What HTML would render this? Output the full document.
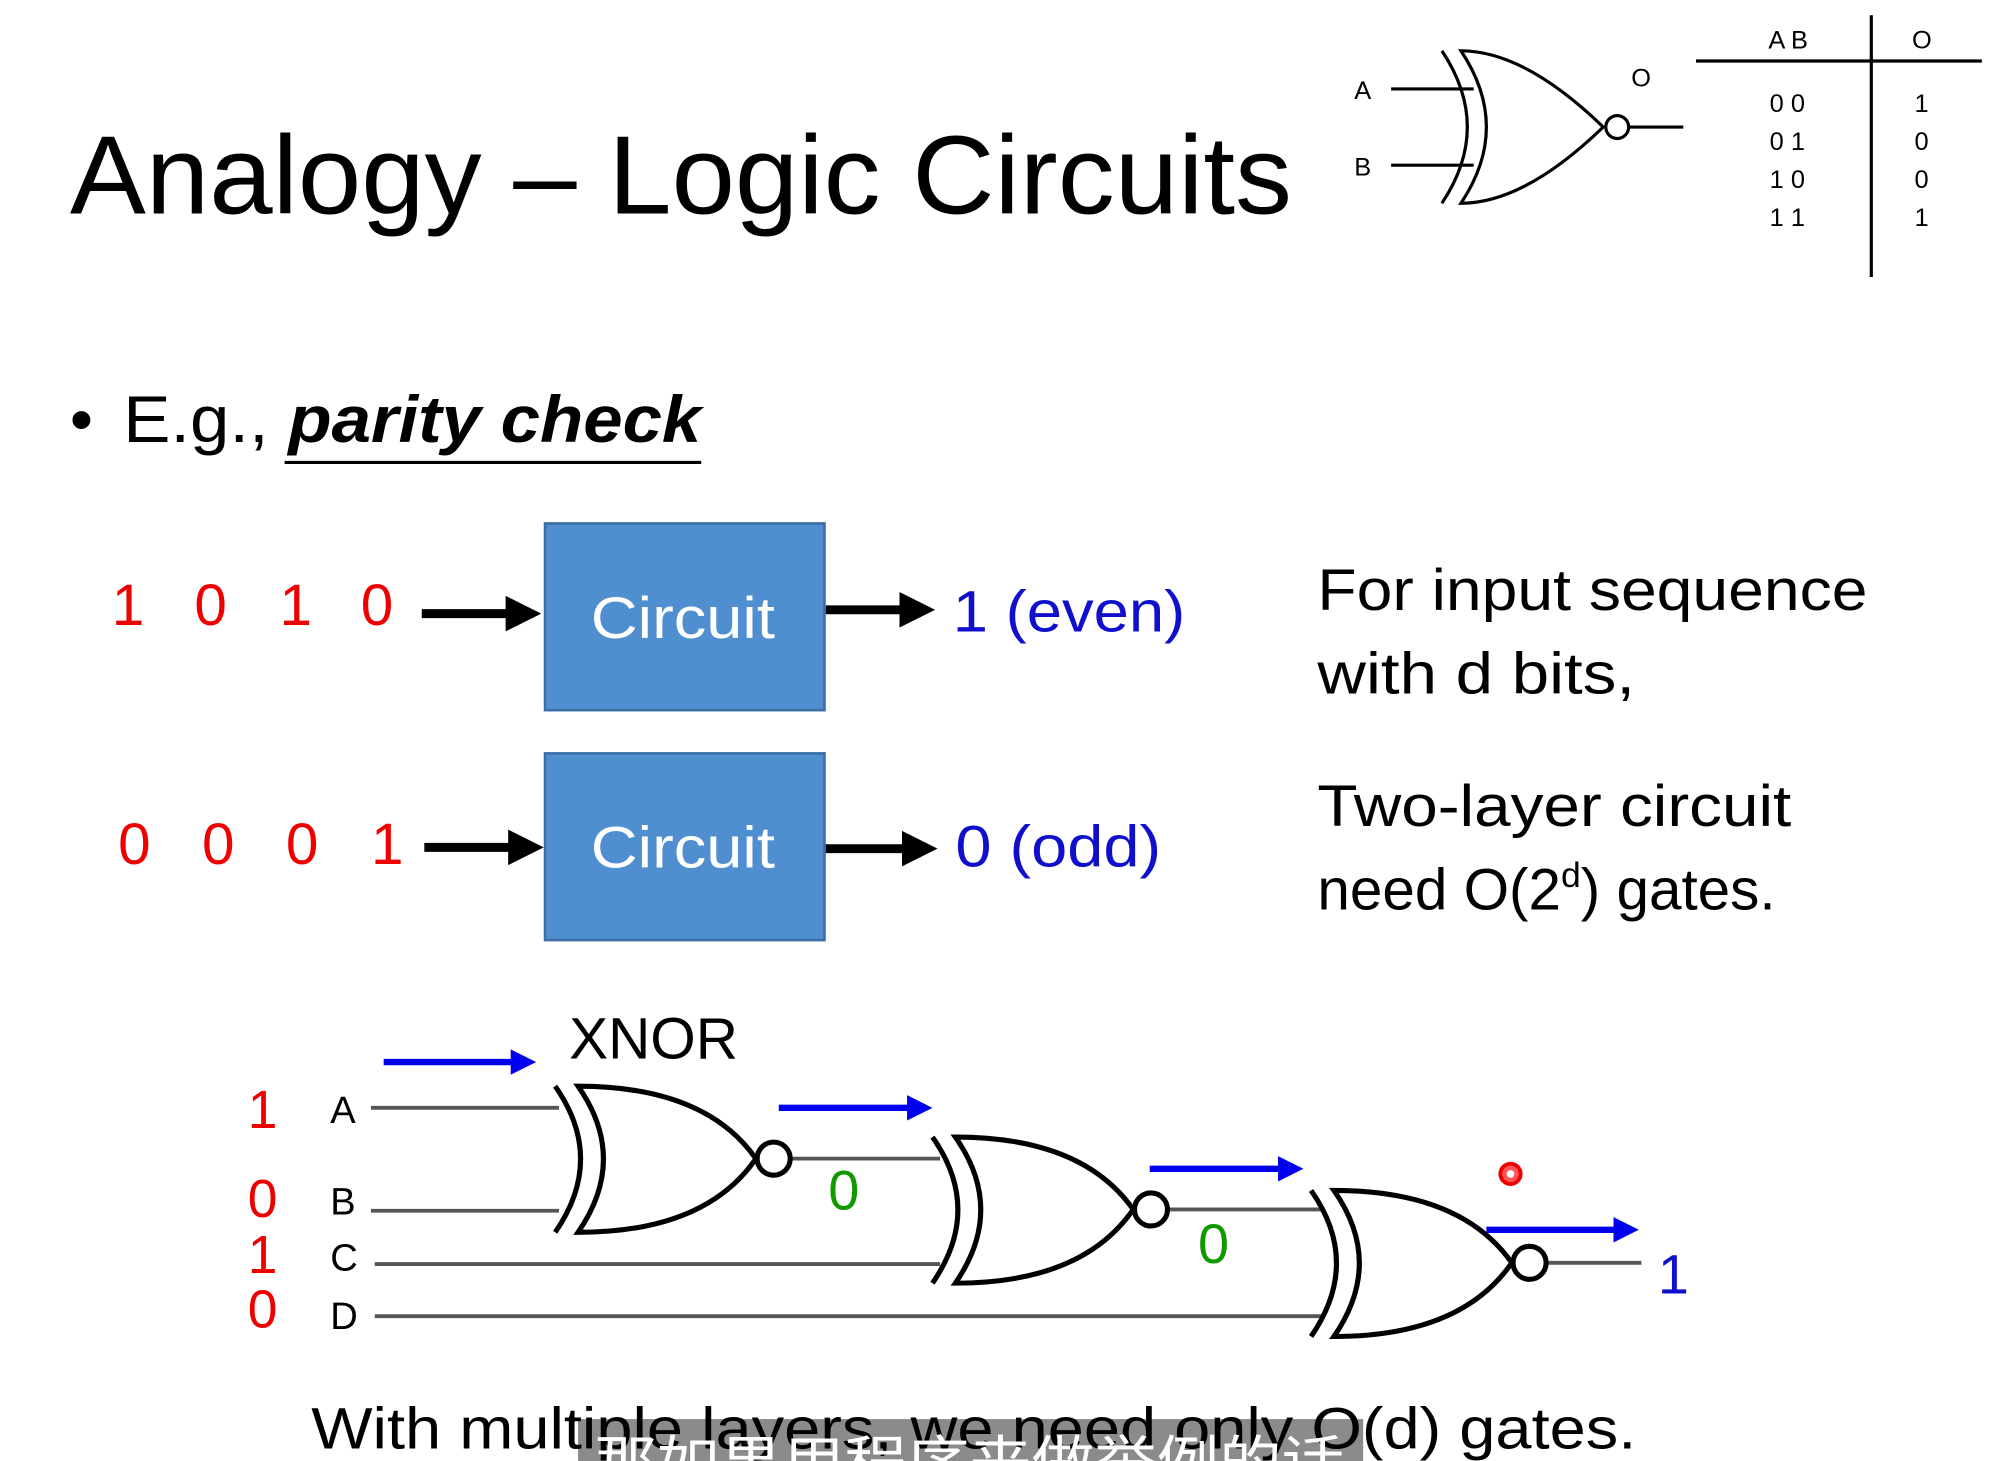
<!DOCTYPE html>
<html><head><meta charset="utf-8"><style>
html,body{margin:0;padding:0;background:#fff}
svg{display:block}
text{font-family:"Liberation Sans","DejaVu Sans",sans-serif}
</style></head><body>
<svg width="1992" height="1461" viewBox="0 0 1568 1150" preserveAspectRatio="none" xmlns="http://www.w3.org/2000/svg">
<defs>
<marker id="ab" markerWidth="4" markerHeight="4" refX="2" refY="2" orient="auto"><path d="M0,0 L4,2 L0,4 z" fill="#000"/></marker>
<marker id="au" markerWidth="4" markerHeight="4" refX="2" refY="2" orient="auto"><path d="M0,0 L4,2 L0,4 z" fill="#0000ee"/></marker>
<g id="gate" fill="none" stroke="#000" stroke-width="4">
<path d="M0,0 Q100,0 140,57 Q100,115 0,115 Q40,57 0,0 Z" fill="#fff"/>
<path d="M-18,0 Q22,57 -18,115"/>
<circle cx="154" cy="57" r="13" fill="#fff"/>
</g>
</defs>
<text x="55" y="168" font-size="88" textLength="962" lengthAdjust="spacingAndGlyphs">Analogy – Logic Circuits</text>
<g stroke="#000" stroke-width="2.5" fill="none">
<line x1="1095" y1="70" x2="1160" y2="70"/><line x1="1095" y1="130" x2="1160" y2="130"/>
<path d="M1150,40 Q1200,40 1262,100 Q1200,160 1150,160 Q1190,100 1150,40 Z"/>
<path d="M1135,40 Q1175,100 1135,160"/>
<circle cx="1273" cy="100" r="9"/>
<line x1="1282" y1="100" x2="1325" y2="100"/>
<line x1="1335" y1="48" x2="1560" y2="48"/><line x1="1473" y1="12" x2="1473" y2="218"/>
</g>
<g font-size="20">
<text x="1066" y="78">A</text><text x="1066" y="138">B</text><text x="1284" y="68">O</text>
<text x="1392" y="38">A  B</text><text x="1505" y="38">O</text>
<text x="1393" y="88">0  0</text><text x="1393" y="118">0  1</text><text x="1393" y="148">1  0</text><text x="1393" y="178">1  1</text>
<text x="1507" y="88">1</text><text x="1507" y="118">0</text><text x="1507" y="148">0</text><text x="1507" y="178">1</text>
</g>
<text x="55" y="348" font-size="52">•</text>
<text x="97" y="348" font-size="52" textLength="455" lengthAdjust="spacingAndGlyphs">E.g., <tspan font-weight="bold" font-style="italic">parity check</tspan></text>
<line x1="224" y1="364" x2="552" y2="364" stroke="#000" stroke-width="2.5"/>
<rect x="429" y="412" width="220" height="147" fill="#4f8fd0" stroke="#3a6ea5" stroke-width="2"/>
<rect x="429" y="593" width="220" height="147" fill="#4f8fd0" stroke="#3a6ea5" stroke-width="2"/>
<text x="465" y="502" font-size="46" fill="#fff" textLength="145" lengthAdjust="spacingAndGlyphs">Circuit</text>
<text x="465" y="683" font-size="46" fill="#fff" textLength="145" lengthAdjust="spacingAndGlyphs">Circuit</text>
<g font-size="46" fill="#e00">
<text x="88" y="492">1</text><text x="153" y="492">0</text><text x="220" y="492">1</text><text x="284" y="492">0</text>
<text x="93" y="680">0</text><text x="159" y="680">0</text><text x="225" y="680">0</text><text x="292" y="680">1</text>
</g>
<g stroke="#000" stroke-width="7">
<line x1="332" y1="483" x2="412" y2="483" marker-end="url(#ab)"/>
<line x1="650" y1="480" x2="722" y2="480" marker-end="url(#ab)"/>
<line x1="334" y1="667" x2="414" y2="667" marker-end="url(#ab)"/>
<line x1="650" y1="668" x2="724" y2="668" marker-end="url(#ab)"/>
</g>
<text x="750" y="497" font-size="46" fill="#1010cc" textLength="183" lengthAdjust="spacingAndGlyphs">1 (even)</text>
<text x="752" y="682" font-size="46" fill="#1010cc" textLength="162" lengthAdjust="spacingAndGlyphs">0 (odd)</text>
<g font-size="46"><text x="1037" y="480" textLength="433" lengthAdjust="spacingAndGlyphs">For input sequence</text>
<text x="1037" y="546" textLength="250" lengthAdjust="spacingAndGlyphs">with d bits,</text>
<text x="1037" y="650" textLength="373" lengthAdjust="spacingAndGlyphs">Two-layer circuit</text>
<text x="1037" y="716">need O(2<tspan font-size="28" dy="-18">d</tspan><tspan dy="18">) gates.</tspan></text></g>
<text x="448" y="833" font-size="46">XNOR</text>
<g stroke="#555" stroke-width="3">
<line x1="292" y1="872" x2="440" y2="872"/><line x1="292" y1="953" x2="440" y2="953"/>
<line x1="295" y1="995" x2="740" y2="995"/><line x1="295" y1="1036" x2="1040" y2="1036"/>
<line x1="622" y1="912" x2="740" y2="912"/><line x1="920" y1="952" x2="1040" y2="952"/>
<line x1="1218" y1="994" x2="1292" y2="994"/>
</g>
<use href="#gate" x="455" y="855"/>
<use href="#gate" x="752" y="895"/>
<use href="#gate" x="1050" y="937"/>
<g font-size="42" fill="#e00"><text x="195" y="888">1</text><text x="195" y="958">0</text><text x="195" y="1002">1</text><text x="195" y="1045">0</text></g>
<g font-size="30"><text x="260" y="884">A</text><text x="260" y="956">B</text><text x="260" y="1000">C</text><text x="260" y="1046">D</text></g>
<text x="652" y="952" font-size="44" fill="#190">0</text>
<text x="943" y="994" font-size="44" fill="#190">0</text>
<text x="1305" y="1018" font-size="44" fill="#1010cc">1</text>
<g stroke="#0000ee" stroke-width="5">
<line x1="302" y1="836" x2="412" y2="836" marker-end="url(#au)"/>
<line x1="613" y1="872" x2="724" y2="872" marker-end="url(#au)"/>
<line x1="905" y1="920" x2="1016" y2="920" marker-end="url(#au)"/>
<line x1="1170" y1="968" x2="1280" y2="968" marker-end="url(#au)"/>
</g>
<circle cx="1189" cy="924" r="8" fill="#f55" stroke="#e00" stroke-width="3"/>
<circle cx="1189" cy="924" r="3" fill="#fff"/>
<rect x="455" y="1117" width="618" height="33" fill="#777" opacity="0.85"/>
<text x="245" y="1140" font-size="46" textLength="1043" lengthAdjust="spacingAndGlyphs">With multiple layers, we need only O(d) gates.</text>
<text x="468" y="1166" font-size="44" fill="#fff" font-family="Noto Sans CJK SC,sans-serif" textLength="590" lengthAdjust="spacingAndGlyphs">那如果用程序来做举例的话</text>
</svg>
</body></html>
